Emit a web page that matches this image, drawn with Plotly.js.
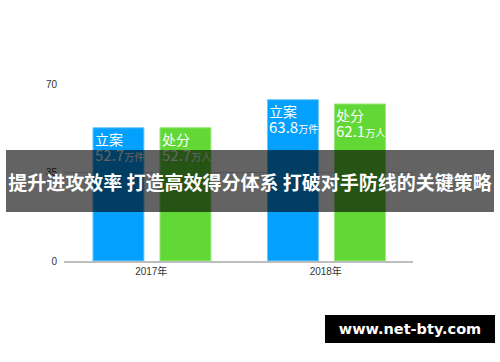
<!DOCTYPE html>
<html>
<head>
<meta charset="utf-8">
<script src="https://cdn.plot.ly/plotly-3.0.1.min.js"></script>
<style>html,body{margin:0;padding:0;background:#fff;}#chart{width:500px;height:362px;}</style>
</head>
<body>
<div id="chart"></div>
<script>
// ---- data ----
const years = ['2017年', '2018年'];
const seriesNames = ['立案', '处分'];
const caseValues = [52.7, 63.8];
const punishValues = [52.7, 62.1];
const units = ['万件', '万人'];
const yTickVals = [0, 35, 70];
const bannerText = '提升进攻效率 打造高效得分体系 打破对手防线的关键策略';
const watermarkText = 'www.net-bty.com';

// ---- layout geometry ----
const W = 500, H = 362;
const M = {l: 64, r: 87, t: 84, b: 101};
const PW = W - M.l - M.r, PH = H - M.t - M.b;
const px = x => (x - M.l) / PW;
const py = y => (H - M.b - y) / PH;

const barW = 0.292;
const offsets = [-0.334, 0.05];
const colors = ['#03a0fe', '#62d836'];
const edge = ['#6cc6ff', '#9ae879'];
const seriesValues = [caseValues, punishValues];
const cjk = '"Noto Sans CJK SC", "Noto Sans", sans-serif';

const traces = seriesValues.map((vals, s) => ({
  type: 'bar',
  name: seriesNames[s],
  x: years,
  y: vals,
  width: years.map(() => barW),
  offset: years.map(() => offsets[s]),
  marker: {color: colors[s], line: {color: edge[s], width: 1}},
  hoverinfo: 'none'
}));

const annotations = [];
seriesValues.forEach((vals, s) => {
  vals.forEach((v, i) => {
    annotations.push({
      xref: 'x', yref: 'y',
      x: i + offsets[s], y: v,
      xanchor: 'left', yanchor: 'top', align: 'left',
      xshift: 0, yshift: 1,
      showarrow: false,
      font: {family: cjk, size: 12, color: '#ffffff'},
      text: '<span style="font-size:14px">' + seriesNames[s] + '</span><br>' +
            '<span style="font-size:15px">' + v.toFixed(1) + '</span>' +
            '<span style="font-size:10px">' + units[s] + '</span>'
    });
  });
});
// banner (drawn after labels so it covers them)
annotations.push({
  xref: 'paper', yref: 'paper',
  x: px(250), y: py(181), xanchor: 'center', yanchor: 'middle',
  width: 488, height: 62, borderpad: 0, borderwidth: 0,
  bgcolor: 'rgba(0,0,0,0.61)', showarrow: false,
  font: {family: cjk, size: 19, color: '#ffffff'},
  text: '<b>' + bannerText + '</b>'
});
// watermark
annotations.push({
  xref: 'paper', yref: 'paper',
  x: px(410), y: py(329), xanchor: 'center', yanchor: 'middle',
  width: 170, height: 28, borderpad: 0, borderwidth: 0,
  bgcolor: '#000000', showarrow: false,
  font: {family: '"DejaVu Sans", "Liberation Sans", sans-serif', size: 14.5, color: '#ffffff'},
  text: '<b>' + watermarkText + '</b>'
});

const layout = {
  width: W, height: H,
  margin: M,
  paper_bgcolor: '#ffffff', plot_bgcolor: '#ffffff',
  showlegend: false,
  barmode: 'group',
  font: {family: '"Liberation Sans", "Noto Sans CJK SC", sans-serif', size: 10, color: '#333333'},
  xaxis: {
    type: 'category', range: [-0.5, 1.5],
    showline: true, linecolor: '#bdbdbd', linewidth: 2,
    showgrid: false, ticks: '', tickfont: {size: 10, color: '#333333'}
  },
  yaxis: {
    range: [0, 70], tickvals: yTickVals,
    showgrid: true, gridcolor: '#dddddd', gridwidth: 1,
    zeroline: false, showline: false,
    ticks: 'outside', ticklen: 4, tickcolor: 'rgba(0,0,0,0)',
    tickfont: {size: 10, color: '#333333'}
  },
  annotations: annotations
};

Plotly.newPlot('chart', traces, layout, {displayModeBar: false, staticPlot: true});
</script>
</body>
</html>
